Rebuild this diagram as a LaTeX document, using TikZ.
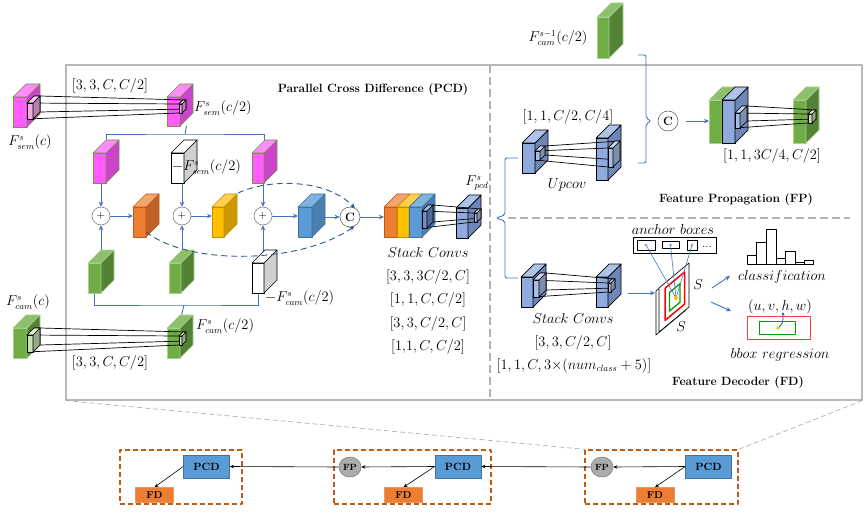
\documentclass[tikz,border=0pt]{standalone}
\usetikzlibrary{arrows.meta,shapes.geometric}
\pgfdeclarelayer{bg}
\pgfsetlayers{bg,main}
\definecolor{magF}{HTML}{FF5BFF}\definecolor{magS}{HTML}{CC44CC}\definecolor{magT}{HTML}{FF8CFF}\definecolor{magE}{HTML}{77933C}
\definecolor{grnF}{HTML}{70AD47}\definecolor{grnS}{HTML}{548235}\definecolor{grnT}{HTML}{8DC06A}\definecolor{grnE}{HTML}{A9D18E}
\definecolor{oraF}{HTML}{ED7D31}\definecolor{oraS}{HTML}{C0612A}\definecolor{oraT}{HTML}{F4A46E}\definecolor{oraE}{HTML}{C55A11}
\definecolor{yelF}{HTML}{FFC000}\definecolor{yelS}{HTML}{CC9A00}\definecolor{yelT}{HTML}{FFD04D}\definecolor{yelE}{HTML}{BF9000}
\definecolor{bluF}{HTML}{5B9BD5}\definecolor{bluS}{HTML}{4A7EB0}\definecolor{bluT}{HTML}{80B3E0}\definecolor{bluE}{HTML}{41719C}
\definecolor{whtF}{HTML}{FFFFFF}\definecolor{whtS}{HTML}{D0D0D0}\definecolor{whtT}{HTML}{FFFFFF}\definecolor{whtE}{HTML}{000000}
\definecolor{perF}{HTML}{8FAADC}\definecolor{perS}{HTML}{6F87B8}\definecolor{perT}{HTML}{AFC3E8}\definecolor{perE}{HTML}{000000}
\definecolor{kpink}{HTML}{F6A8E8}\definecolor{kgreen}{HTML}{C5E0B4}\definecolor{kblue}{HTML}{6D8FC8}\definecolor{kper}{HTML}{A9BEE6}
\definecolor{conB}{HTML}{4472C4}\definecolor{dashB}{HTML}{2F5597}
% cuboid: name, X, Y (front top-left), w, h, depth, scheme
\newcommand\cuboid[7]{%
\begin{scope}[shift={(#2,#3)}]
 \filldraw[draw=#7E, fill=#7F, line width=0.7pt] (0,0) rectangle (#4,#5);
 \filldraw[draw=#7E, fill=#7S, line width=0.7pt] (#4,0) -- ({#4+#6},{-#6}) -- ({#4+#6},{#5-#6}) -- (#4,#5) -- cycle;
 \filldraw[draw=#7E, fill=#7T, line width=0.7pt] (0,0) -- (#6,{-#6}) -- ({#4+#6},{-#6}) -- (#4,0) -- cycle;
 \coordinate (#1-w) at (0,{#5/2});
 \coordinate (#1-e) at ({#4+#6/2},{#5/2-#6/2});
 \coordinate (#1-s) at ({#4/2},#5);
 \coordinate (#1-top) at ({#4/2+#6/2},{-#6/2});
 \coordinate (#1-br) at ({#4+#6},{-#6});
\end{scope}}
% kernel: name, X, Y, w, h, depth, fill
\newcommand\kerncube[7]{%
\begin{scope}[shift={(#2,#3)}]
 \filldraw[draw=black, fill=#7, line width=0.6pt] (0,0) rectangle (#4,#5);
 \filldraw[draw=black, fill=#7!75!black, line width=0.6pt] (#4,0) -- ({#4+#6},{-#6}) -- ({#4+#6},{#5-#6}) -- (#4,#5) -- cycle;
 \filldraw[draw=black, fill=#7!60!white, line width=0.6pt] (0,0) -- (#6,{-#6}) -- ({#4+#6},{-#6}) -- (#4,0) -- cycle;
 \coordinate (#1-a) at (0,0);
 \coordinate (#1-b) at ({#4+#6},{-#6});
 \coordinate (#1-c) at (0,#5);
 \coordinate (#1-d) at ({#4+#6},{#5-#6});
\end{scope}}
\begin{document}
\begin{tikzpicture}[x=1pt,y=-1pt,line join=round,
  lbl/.style={font=\fontsize{13.5}{15}\selectfont, inner sep=0pt},
  wlbl/.style={font=\fontsize{14.5}{16}\selectfont, inner sep=0pt},
  ttl/.style={font=\fontsize{12}{14}\selectfont\bfseries, inner sep=0pt},
  con/.style={draw=conB, line width=0.9pt},
  arr/.style={con, -{Stealth[length=5pt,width=4.5pt]}},
  darc/.style={draw=dashB, line width=0.9pt, dash pattern=on 6pt off 4pt, -{Stealth[length=5pt,width=4.5pt]}},
  pl/.style={circle, draw=gray, fill=white, line width=0.6pt, minimum size=18pt, inner sep=0pt, font=\fontsize{11}{11}\selectfont},
  cc/.style={circle, draw=gray!80!black, fill=white, line width=0.6pt, minimum size=20pt, inner sep=0pt, font=\fontsize{12}{12}\selectfont\bfseries},
  sep/.style={draw=gray!60, line width=1.6pt, dash pattern=on 8pt off 4pt},
  pcdb/.style={rectangle, fill=bluF, draw=bluE, line width=0.6pt, minimum width=46pt, minimum height=23pt, inner sep=0pt, font=\fontsize{10.5}{10.5}\selectfont\bfseries},
  fdb/.style={rectangle, fill=oraF, draw=oraE!60, line width=0.6pt, minimum width=38pt, minimum height=15pt, inner sep=0pt, font=\fontsize{10}{10}\selectfont\bfseries},
  fpb/.style={ellipse, fill=gray!65, draw=gray, line width=0.6pt, minimum width=22pt, minimum height=20pt, inner sep=0pt, font=\fontsize{9}{9}\selectfont\bfseries},
  obox/.style={draw=oraE, line width=1.4pt, dash pattern=on 5pt off 3pt, inner sep=0pt},
  barr/.style={draw=black, line width=0.6pt, -{Stealth[length=4pt,width=3.5pt]}},
  ]
\useasboundingbox (0,0) rectangle (867,513);
\begin{pgfonlayer}{bg}
\fill[white] (0,0) rectangle (867,513);
\end{pgfonlayer}

% main frame and separators
\node[draw=gray!55, line width=1.1pt, minimum width=796pt, minimum height=335pt, inner sep=0pt] (mainbox) at (464,232.5) {};
\coordinate (vsTop) at (490,65);
\coordinate (vsBot) at (490,400);
\draw[sep] (vsTop) -- (vsBot);
\coordinate (hsL) at (508,218);
\coordinate (hsR) at (850,218);
\draw[sep] (hsL) -- (hsR);

% circles
\node[pl] (p1) at (101,216) {$+$};
\node[pl] (p2) at (182,216) {$+$};
\node[pl] (p3) at (263,216) {$+$};
\node[cc] (c1) at (350,217) {C};
\node[cc] (c2) at (668,121) {C};

% cuboids
\cuboid{semC}{13}{97}{14}{30}{13}{mag}
\cuboid{semH}{167}{97}{13}{29}{13}{mag}
\cuboid{mA}{93}{153}{13}{30}{13}{mag}
\cuboid{wS}{171}{153}{13}{30}{13}{wht}
\cuboid{mB}{252}{153}{12}{30}{13}{mag}
\cuboid{or}{133}{207}{13}{30}{13}{ora}
\cuboid{ye}{212}{207}{12}{30}{13}{yel}
\cuboid{bl}{298}{207}{14}{30}{13}{blu}
\cuboid{gA}{88}{263}{13}{30}{13}{grn}
\cuboid{gB}{169}{263}{12}{30}{13}{grn}
\cuboid{wC}{252}{263}{12}{30}{13}{wht}
\cuboid{camH}{167}{328}{13}{30}{13}{grn}
\cuboid{camC}{13}{328}{14}{30}{13}{grn}
\cuboid{sO}{384}{207}{13}{30}{13}{ora}
\cuboid{sY}{397}{207}{12}{30}{13}{yel}
\cuboid{sB}{409}{207}{13}{30}{13}{blu}
\cuboid{pcd}{456}{208}{12}{30}{13}{per}
\cuboid{prev}{597}{17}{12}{41}{14}{grn}
\cuboid{uA}{522}{143}{13}{30}{13}{per}
\cuboid{uB}{596}{138}{12}{42}{13}{per}
\cuboid{fG}{709}{100}{13}{43}{13}{grn}
\cuboid{fB}{722}{100}{13}{43}{13}{per}
\cuboid{fT}{793}{100}{13}{43}{13}{grn}
\cuboid{dA}{521}{277}{12}{30}{13}{per}
\cuboid{dB}{596}{277}{12}{30}{13}{per}

% connectors (behind the cuboids)
\begin{pgfonlayer}{bg}
 \coordinate (brT) at (185,134);
 \draw[con] (mA-top) |- (brT) -| (mB-top);
 \draw[con] (semH-e |- semH-s) -- (brT);
 \coordinate (brB) at (184,305);
 \draw[con] (gA-s) |- (brB) -| (wC-s);
 \draw[con] (brB) -- (camH-top);
 \draw[arr] (mA-s -| p1) -- (p1);
 \draw[arr] (wS-s -| p2) -- (p2);
 \draw[arr] (mB-s -| p3) -- (p3);
 \draw[arr] (gA-top -| p1) -- (p1);
 \draw[arr] (gB-top -| p2) -- (p2);
 \draw[arr] (wC-top -| p3) -- (p3);
\end{pgfonlayer}
\draw[arr] (p1) -- (p1 -| or-w);
\draw[arr] (p2) -- (p2 -| ye-w);
\draw[arr] (p3) -- (p3 -| bl-w);
\draw[arr] (c1 -| bl-e) -- (c1);
\draw[arr] (c1) -- (c1 -| sO-w);
\coordinate (yeTR) at (238,193);
\draw[darc] (yeTR) .. controls (268,179) and (325,178) .. (c1.62);
\coordinate (orBR) at (146,232);
\draw[darc] (orBR) .. controls (190,266) and (300,264) .. (c1.295);

% braces in the right part
\coordinate (bA) at (518,158);
\coordinate (bB) at (518,278);
\draw[con, rounded corners=2pt] (bA) -- (505,158) -- (505,215) -- (496,218) -- (505,221) -- (505,278) -- (bB);
\coordinate (fA) at (638,55);
\coordinate (fB) at (638,163);
\draw[con, rounded corners=2pt] (fA) -- (646,55) -- (646,118) -- (651,121) -- (646,124) -- (646,163) -- (fB);
\draw[arr, shorten <=8pt] (c2) -- (c2 -| fG-w);

% kernel lines and kernels
\kerncube{k1}{27}{103}{6}{16}{7}{kpink}
\kerncube{k1t}{179}{104}{3}{9}{4}{kpink}
\kerncube{k2}{27}{335}{6}{17}{7}{kgreen}
\kerncube{k2t}{179}{336}{3}{9}{4}{kgreen}
\kerncube{k3}{422}{211}{5}{17}{6}{kblue}
\kerncube{k3t}{474}{213}{3}{9}{4}{kper}
\kerncube{k4}{535}{151}{5}{9}{5}{kper}
\kerncube{k4t}{608}{148}{5}{19}{7}{kper}
\kerncube{k5}{735}{113}{5}{15}{7}{kper}
\kerncube{k5t}{808}{114}{4}{9}{4}{kgreen}
\kerncube{k6}{533}{280}{6}{17}{7}{kper}
\kerncube{k6t}{608}{283}{3}{9}{4}{kper}
\foreach \k in {k1,k2,k3,k4,k5,k6}{
  \foreach \c in {a,b,c,d}{\draw[line width=0.7pt] (\k-\c) -- (\k t-\c);}
}
\kerncube{k1}{27}{103}{6}{16}{7}{kpink}
\kerncube{k2}{27}{335}{6}{17}{7}{kgreen}
\kerncube{k3}{422}{211}{5}{17}{6}{kblue}
\kerncube{k4}{535}{151}{5}{9}{5}{kper}
\kerncube{k5}{735}{113}{5}{15}{7}{kper}
\kerncube{k6}{533}{280}{6}{17}{7}{kper}
\kerncube{k1t}{179}{104}{3}{9}{4}{kpink}
\kerncube{k2t}{179}{336}{3}{9}{4}{kgreen}
\kerncube{k3t}{474}{213}{3}{9}{4}{kper}
\kerncube{k4t}{608}{148}{5}{19}{7}{kper}
\kerncube{k5t}{808}{114}{4}{9}{4}{kgreen}
\kerncube{k6t}{608}{283}{3}{9}{4}{kper}

% feature decoder
\coordinate (dOut) at (628,293);
\coordinate (plIn) at (655,293);
\draw[arr] (dOut) -- (plIn);
\filldraw[fill=white, draw=black, line width=0.6pt] (656,291) -- (686,266) -- (686,310) -- (656,335) -- cycle;
\filldraw[fill=white, draw=black, line width=0.6pt] (659,288) -- (689,263) -- (689,307) -- (659,332) -- cycle;
\draw[red, line width=1.5pt] (665,288.3) -- (684.5,272) -- (684.5,304.2) -- (665,320.4) -- cycle;
\draw[green!65!black, line width=1.3pt] (669.5,292.5) -- (680,283.7) -- (680,302.2) -- (669.5,311) -- cycle;
\coordinate (ydot) at (676,298);
% anchor boxes
\draw[line width=0.7pt] (633,237) rectangle (716,253);
\draw[line width=0.7pt] (637,240) rectangle (655,250);
\draw[line width=0.7pt] (662,241.5) rectangle (679,248.5);
\draw[line width=0.7pt] (687,240) rectangle (697,250);
\node[font=\fontsize{12}{12}\selectfont, inner sep=0pt] at (707,247) {...};
\coordinate (an1) at (646,245);
\coordinate (an2) at (670.5,245);
\coordinate (an3) at (692,245);
\foreach \a in {an1,an2,an3}{\draw[draw=conB, line width=0.6pt] (\a) -- (ydot); \fill[gray!70] (\a) circle (1.6);}
\fill[yelF] (ydot) circle (2);
% classification histogram
\foreach \xa/\xb/\t in {747/756/255, 756/766/242, 766/776/229, 776/785/258, 785/795/251, 795/804/262, 804/813/260}
  {\draw[line width=0.8pt] (\xa,264) rectangle (\xb,\t);}
\coordinate (cl1) at (712,288); \coordinate (cl2) at (730,276);
\coordinate (bb1) at (711,302); \coordinate (bb2) at (731,311);
\draw[arr] (cl1) -- (cl2);
\draw[arr] (bb1) -- (bb2);
% bbox regression
\draw[draw=red!75, line width=0.9pt] (747,316) rectangle (810,339);
\draw[draw=green!60!black, line width=0.8pt] (759,321) rectangle (795,334);
\coordinate (bdot) at (778,328);
\coordinate (btip) at (783,312);
\draw[draw=dashB, line width=0.8pt, -{Stealth[length=3.5pt,width=3pt]}] (bdot) .. controls (783,323) .. (btip);
\fill[yelF] (bdot) circle (1.8);

% labels
\node[lbl] at (30,142) {$F^{s}_{sem}(c)$};
\node[lbl] at (110,86) {$[3,3,C,C/2]$};
\node[lbl,anchor=west] at (194,108) {$F^{s}_{sem}(c/2)$};
\node[lbl,anchor=west] at (172,167) {$-F^{s}_{sem}(c/2)$};
\node[lbl,anchor=west] at (265,298) {$-F^{s}_{cam}(c/2)$};
\node[lbl,anchor=west] at (196,326) {$F^{s}_{cam}(c/2)$};
\node[lbl] at (28,302) {$F^{s}_{cam}(c)$};
\node[lbl] at (110,363) {$[3,3,C,C/2]$};
\node[ttl] at (373,90) {Parallel Cross Difference (PCD)};
\node[lbl] at (477,183) {$F^{s}_{pcd}$};
\node[wlbl] at (428,252) {$Stack\ Convs$};
\node[lbl] at (428,277) {$[3,3,3C/2,C]$};
\node[lbl] at (428,300) {$[1,1,C,C/2]$};
\node[lbl] at (428,324) {$[3,3,C/2,C]$};
\node[lbl] at (428,347) {$[1{,}1,C,C/2]$};
\node[lbl] at (558,38) {$F^{s-1}_{cam}(c/2)$};
\node[lbl] at (568,117) {$[1,1,C/2,C/4]$};
\node[wlbl] at (567,185) {$Upcov$};
\node[lbl] at (772,156) {$[1,1,3C/4,C/2]$};
\node[ttl] at (736,200) {Feature Propagation (FP)};
\node[wlbl] at (673,229) {$anchor\ boxes$};
\node[wlbl] at (698,285) {$S$};
\node[wlbl] at (681,327) {$S$};
\node[wlbl] at (782,277) {$classification$};
\node[wlbl] at (780,307) {$(u,v,h,w)$};
\node[wlbl] at (780,355) {$bbox\ regression$};
\node[wlbl] at (573,318) {$Stack\ Convs$};
\node[lbl] at (573,343) {$[3,3,C/2,C]$};
\node[lbl] at (574,366) {$[1,1,C,3{\times}(num_{class}+5)]$};
\node[ttl] at (738,383) {Feature Decoder (FD)};

% bottom row
\node[obox, minimum width=122pt, minimum height=54pt] (bx1) at (181,477) {};
\node[obox, minimum width=157pt, minimum height=54pt] (bx2) at (412.5,477) {};
\node[obox, minimum width=153pt, minimum height=54pt] (bx3) at (661.5,477) {};
\node[pcdb] (pcd1) at (206.5,466.5) {PCD};
\node[fdb] (fd1) at (154.5,495) {FD};
\node[pcdb] (pcd2) at (458,466.5) {PCD};
\node[fdb] (fd2) at (403.5,495) {FD};
\node[fpb] (fp2) at (350,467) {FP};
\node[pcdb] (pcd3) at (708.5,466.5) {PCD};
\node[fdb] (fd3) at (655,495) {FD};
\node[fpb] (fp3) at (602,467) {FP};
\draw[barr] (pcd3.west) -- (fp3.east);
\draw[barr] (fp3.west) -- (pcd2.east);
\draw[barr] (pcd2.west) -- (fp2.east);
\draw[barr] (fp2.west) -- (pcd1.east);
\draw[barr] (pcd1.west) -- (fd1.north);
\draw[barr] (pcd2.west) -- (fd2.north);
\draw[barr] (pcd3.west) -- (fd3.north);
\draw[draw=gray!70, line width=0.6pt, dash pattern=on 5pt off 3pt] (mainbox.south west) -- (bx3.north west);
\draw[draw=gray!70, line width=0.6pt, dash pattern=on 5pt off 3pt] (mainbox.south east) -- (bx3.north east);
\end{tikzpicture}
\end{document}
